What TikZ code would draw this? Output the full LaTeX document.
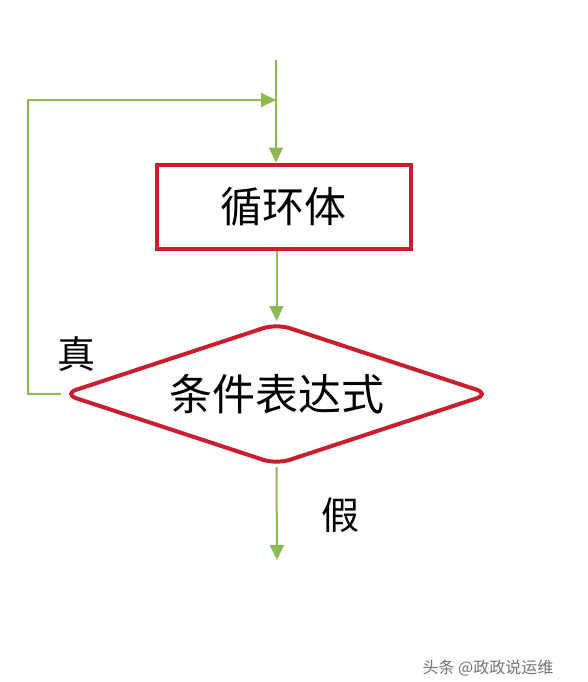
\documentclass[tikz,border=0pt]{standalone}
\usepackage{fontspec}
\setmainfont{Noto Sans CJK SC}
\usetikzlibrary{arrows.meta,shapes.geometric}
\definecolor{gline}{RGB}{140,186,80}
\definecolor{rbox}{RGB}{200,30,45}
\tikzset{
  arr/.style={draw=gline,line width=2pt,-{Triangle[length=15pt,width=14pt]}},
  procbox/.style={draw=rbox,line width=4pt,rectangle,minimum width=254pt,minimum height=84pt,inner sep=0pt,font=\fontsize{42}{48}\selectfont},
  decbox/.style={draw=rbox,line width=4pt,diamond,rounded corners=14pt,minimum width=428pt,minimum height=142pt,inner sep=0pt,aspect=3,font=\fontsize{43}{48}\selectfont},
  lbl/.style={font=\fontsize{38}{42}\selectfont,inner sep=0pt}
}
\begin{document}
\begin{tikzpicture}[x=1pt,y=-1pt]
\useasboundingbox (0,0) rectangle (588,682);
\fill[white] (0,0) rectangle (588,682);
\coordinate (top) at (276,60);
\coordinate (loopend) at (276,100);
\coordinate (bot) at (277,560);
\node[procbox] (body) at (283.5,206.5) {循环体};
\node[decbox] (cond) at (276.5,394) {条件表达式};
\draw[arr] (top) -- (top |- body.north);
\draw[arr] (cond.north |- body.south) -- (cond.north);
\draw[arr] (cond.west) -- (28,394) |- (loopend);
\draw[arr] (cond.south) -- (bot);
\node[lbl] (t) at (76,354) {真};
\node[lbl] (f) at (340,515) {假};
\node[font=\fontsize{16}{18}\selectfont,text=black!55,inner sep=0pt] (wm) at (488,668) {头条 @政政说运维};
\end{tikzpicture}
\end{document}
